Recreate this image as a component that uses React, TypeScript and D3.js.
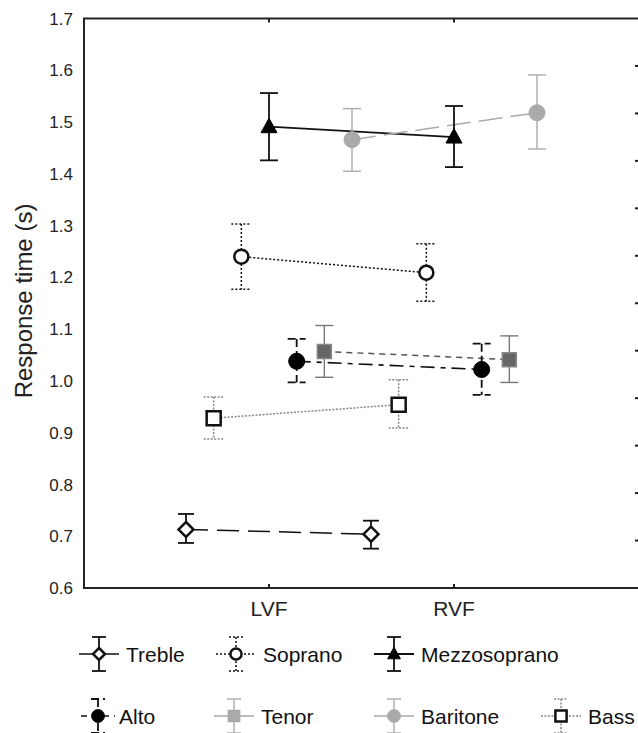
import React, {useRef, useEffect} from 'react';
import * as d3 from 'd3';

// visual field conditions on the x axis
const conditions = ['LVF', 'RVF'];

// voice groups (legend order)
const voices = ['Treble', 'Soprano', 'Mezzosoprano', 'Alto', 'Tenor', 'Baritone', 'Bass'];

// left-to-right order of the dodged points inside each condition
const dodgeOrder = ['Treble', 'Bass', 'Soprano', 'Mezzosoprano', 'Alto', 'Tenor', 'Baritone'];

// mean response time (s), [LVF, RVF], same order as voices
const meanRT = [
  [0.713, 0.704],
  [1.240, 1.209],
  [1.491, 1.471],
  [1.038, 1.022],
  [1.057, 1.041],
  [1.466, 1.518],
  [0.928, 0.954]
];

// error bar ends
const upperRT = [
  [0.743, 0.730],
  [1.303, 1.265],
  [1.556, 1.531],
  [1.081, 1.072],
  [1.107, 1.087],
  [1.526, 1.591],
  [0.969, 1.002]
];
const lowerRT = [
  [0.687, 0.676],
  [1.177, 1.154],
  [1.426, 1.413],
  [0.997, 0.973],
  [1.007, 0.997],
  [1.405, 1.448],
  [0.888, 0.909]
];

const yTicks = [0.6, 0.7, 0.8, 0.9, 1.0, 1.1, 1.2, 1.3, 1.4, 1.5, 1.6, 1.7];

const FONT = '"Liberation Sans", Arial, sans-serif';

// look of each voice
const looks = {
  Treble: {line: '#111', dash: '22,9', lw: 1.5, err: '#111', errDash: null, ew: 1.8, cap: 8, shape: 'diamond', fill: '#fff', stroke: '#111'},
  Soprano: {line: '#111', dash: '2,2', lw: 1.5, err: '#111', errDash: '2,2', ew: 1.5, cap: 10, shape: 'circle', fill: '#fff', stroke: '#111'},
  Mezzosoprano: {line: '#111', dash: null, lw: 1.8, err: '#111', errDash: null, ew: 1.8, cap: 9, shape: 'triangle', fill: '#000', stroke: '#000'},
  Alto: {line: '#111', dash: '14,6,5,6', lw: 1.6, err: '#111', errDash: '8,4', ew: 1.8, cap: 9, shape: 'dot', fill: '#000', stroke: '#000'},
  Tenor: {line: '#555', dash: '6,5', lw: 1.5, err: '#777', errDash: null, ew: 1.4, cap: 9, shape: 'square', fill: '#666', stroke: '#888'},
  Baritone: {line: '#aaa', dash: '24,8', lw: 1.5, err: '#aaa', errDash: null, ew: 1.4, cap: 9, shape: 'dot', fill: '#aaa', stroke: '#aaa'},
  Bass: {line: '#888', dash: '2,1.5', lw: 1.5, err: '#888', errDash: '2,1.5', ew: 1.5, cap: 10, shape: 'square', fill: '#fff', stroke: '#111'}
};

function markerPath(shape) {
  if (shape === 'diamond') return 'M0,-7.5L7.5,0L0,7.5L-7.5,0Z';
  if (shape === 'triangle') return 'M0,-8.5L8,6L-8,6Z';
  if (shape === 'square') return 'M-7,-7H7V7H-7Z';
  return null;
}

function drawMarker(g, look, x, y, k = 1) {
  if (look.shape === 'circle' || look.shape === 'dot') {
    g.append('circle')
      .attr('cx', x)
      .attr('cy', y)
      .attr('r', (look.shape === 'circle' ? 7 : 8) * k)
      .attr('fill', look.fill)
      .attr('stroke', look.stroke)
      .attr('stroke-width', look.shape === 'circle' ? 2.5 : 1);
  } else {
    g.append('path')
      .attr('d', markerPath(look.shape))
      .attr('transform', `translate(${x},${y}) scale(${k})`)
      .attr('fill', look.fill)
      .attr('stroke', look.stroke)
      .attr('stroke-width', (look.shape === 'triangle' ? 1 : (look.fill === '#fff' ? 2.5 : 1.5)) / k);
  }
}

function drawErrorBar(g, look, x, y1, y2, cap) {
  const w = cap || look.cap;
  g.append('line')
    .attr('x1', x).attr('x2', x).attr('y1', y1).attr('y2', y2)
    .attr('stroke', look.err).attr('stroke-width', look.ew)
    .attr('stroke-dasharray', look.errDash);
  [y1, y2].forEach(yy => {
    g.append('line')
      .attr('x1', x - w).attr('x2', x + w).attr('y1', yy).attr('y2', yy)
      .attr('stroke', look.err).attr('stroke-width', look.ew)
      .attr('stroke-dasharray', look.errDash);
  });
}

export default function App() {
  const ref = useRef(null);

  useEffect(() => {
    const ele = ref.current;
    d3.select(ele).selectAll('*').remove();
    const w = 638;
    const h = 733;
    const left = 84;
    const right = 639;
    const top = 18.5;
    const bottom = 588;

    const svg = d3.select(ele)
      .append('svg')
      .attr('width', w)
      .attr('height', h)
      .style('position', 'absolute')
      .style('left', 0)
      .style('top', 0)
      .style('background', '#fff');

    const x = d3.scalePoint().domain(conditions).range([left, right]).padding(1);
    const dodge = d3.scalePoint().domain(dodgeOrder).range([-83, 83]);
    const y = d3.scaleLinear().domain([0.6, 1.7]).range([bottom, top]);

    // frame
    const frame = svg.append('g').attr('stroke', '#222').attr('stroke-width', 2).attr('fill', 'none');
    frame.append('path').attr('d', `M${right},${top}H${left}V${bottom}H${right}`);
    conditions.forEach(c => {
      frame.append('line').attr('x1', x(c)).attr('x2', x(c)).attr('y1', top).attr('y2', top + 4);
      frame.append('line').attr('x1', x(c)).attr('x2', x(c)).attr('y1', bottom).attr('y2', bottom - 4);
    });
    // right side ticks
    const yr = d3.scaleLinear().domain([0, 12]).range([bottom, top]);
    d3.range(1, 12).forEach(i => {
      frame.append('line').attr('x1', 635).attr('x2', 639).attr('y1', yr(i)).attr('y2', yr(i));
    });

    // y tick labels
    svg.append('g')
      .selectAll('text')
      .data(yTicks)
      .enter()
      .append('text')
      .attr('x', 73)
      .attr('y', d => y(d))
      .attr('dy', '0.36em')
      .attr('text-anchor', 'end')
      .attr('font-family', FONT)
      .attr('font-size', 17)
      .attr('fill', '#222')
      .text(d => d3.format('.1f')(d));

    // x labels
    svg.append('g')
      .selectAll('text')
      .data(conditions)
      .enter()
      .append('text')
      .attr('x', d => x(d))
      .attr('y', 616)
      .attr('text-anchor', 'middle')
      .attr('font-family', FONT)
      .attr('font-size', 21)
      .attr('fill', '#222')
      .text(d => d);

    // y title
    svg.append('text')
      .attr('transform', 'translate(32,301) rotate(-90)')
      .attr('text-anchor', 'middle')
      .attr('font-family', FONT)
      .attr('font-size', 24)
      .attr('fill', '#222')
      .text('Response time (s)');

    // connecting lines
    const lineGen = d3.line().x(d => d[0]).y(d => d[1]);
    const pts = voices.map((v, i) => conditions.map((c, j) => [x(c) + dodge(v), y(meanRT[i][j])]));

    const gl = svg.append('g');
    voices.forEach((v, i) => {
      const look = looks[v];
      gl.append('path')
        .attr('d', lineGen(pts[i]))
        .attr('fill', 'none')
        .attr('stroke', look.line)
        .attr('stroke-width', look.lw)
        .attr('stroke-dasharray', look.dash);
    });

    // error bars and markers
    const gm = svg.append('g');
    voices.forEach((v, i) => {
      const look = looks[v];
      conditions.forEach((c, j) => {
        drawErrorBar(gm, look, pts[i][j][0], y(upperRT[i][j]), y(lowerRT[i][j]));
      });
    });
    voices.forEach((v, i) => {
      const look = looks[v];
      conditions.forEach((c, j) => {
        drawMarker(gm, look, pts[i][j][0], pts[i][j][1]);
      });
    });

    // legend
    const legendPos = {
      Treble: [99, 654],
      Soprano: [236, 654],
      Mezzosoprano: [394, 654],
      Alto: [98, 716],
      Tenor: [234, 716],
      Baritone: [394, 716],
      Bass: [561, 716]
    };
    const legendDash = {
      Treble: null, Soprano: '2,2', Mezzosoprano: null, Alto: '6,5', Tenor: null, Baritone: null, Bass: '2,1.5'
    };
    const lg = svg.append('g');
    voices.forEach(v => {
      const look = {...looks[v]};
      if (v === 'Tenor') { look.fill = '#aaa'; look.stroke = '#aaa'; look.line = '#aaa'; look.err = '#aaa'; }
      const [cx, cy] = legendPos[v];
      const half = v === 'Alto' ? 17 : 20;
      lg.append('line')
        .attr('x1', cx - half).attr('x2', cx + half).attr('y1', cy).attr('y2', cy)
        .attr('stroke', look.line).attr('stroke-width', look.lw)
        .attr('stroke-dasharray', legendDash[v]);
      drawErrorBar(lg, look, cx, cy - 17, cy + 17, 7);
      drawMarker(lg, look, cx, cy, 0.8);
      lg.append('text')
        .attr('x', cx + (v === 'Alto' ? 21 : 27))
        .attr('y', cy + 7.5)
        .attr('font-family', FONT)
        .attr('font-size', 21)
        .attr('fill', '#111')
        .text(v);
    });
  }, []);

  return (
    <div ref={ref} style={{position: 'absolute', top: 0, left: 0}}></div>
  );
}
